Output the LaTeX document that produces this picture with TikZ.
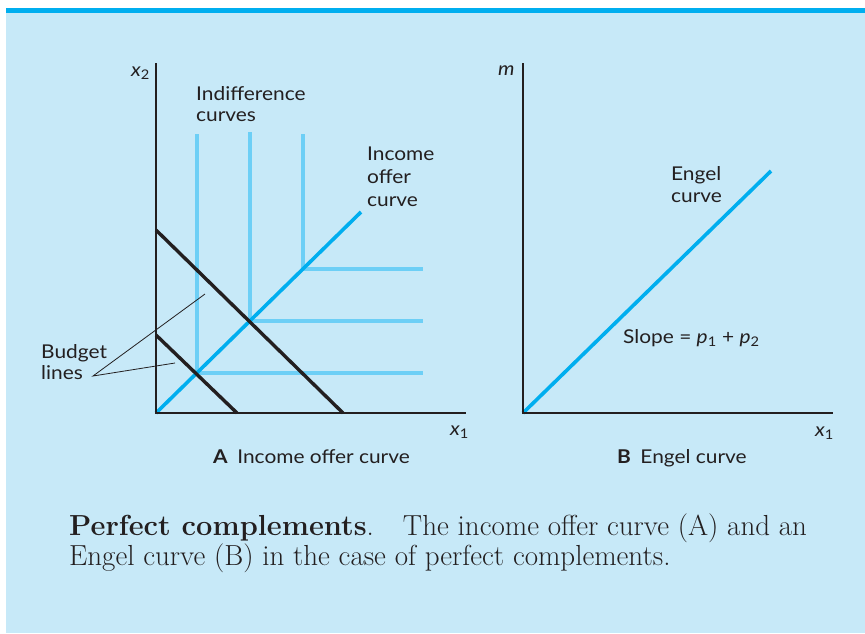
\documentclass[tikz,border=0pt]{standalone}
\usepackage{fontspec}
\newfontfamily\lab[FakeStretch=1.1]{Lato}
\definecolor{bgblue}{HTML}{C7E9F8}
\definecolor{topcyan}{HTML}{00AEEF}
\definecolor{indiff}{HTML}{6DCFF6}
\definecolor{ink}{HTML}{231F20}
\tikzset{
  axis/.style={draw=ink, line width=2.6pt, line cap=rect},
  budget/.style={draw=ink, line width=3.4pt},
  icurve/.style={draw=indiff, line width=3.8pt},
  offer/.style={draw=topcyan, line width=3.6pt},
  leader/.style={draw=ink, line width=0.8pt},
  lbl/.style={inner sep=0pt, anchor=base west, text=ink, font=\lab\fontsize{19}{22}\selectfont},
  captxt/.style={inner sep=0pt, anchor=base west, text=ink, font=\fontsize{29}{30}\selectfont}
}
\begin{document}
\begin{tikzpicture}[x=1pt,y=-1pt]
\useasboundingbox (0,0) rectangle (865,633);
\fill[white] (0,0) rectangle (865,633);
\fill[bgblue] (6,12) rectangle (865,633);
\fill[topcyan] (6,8) rectangle (865,12.5);

% ---------- Panel A ----------
\coordinate (O1) at (156,413);
\coordinate (Y1) at (156,64);
\coordinate (X1) at (465,413);
\coordinate (c1) at (197,373);
\coordinate (c2) at (250,321);
\coordinate (c3) at (303,269);
\coordinate (t1) at (197,134);
\coordinate (t2) at (250,132);
\coordinate (t3) at (303,134);
\coordinate (h1) at (423,373);
\coordinate (h2) at (423,321);
\coordinate (h3) at (423,269);
\coordinate (ioc) at (361,212);
\coordinate (b1a) at (156,230);
\coordinate (b1b) at (343,413);
\coordinate (b2a) at (156,335);
\coordinate (b2b) at (237,413);

\draw[icurve] (t1) -- (c1) -- (h1);
\draw[icurve] (t2) -- (c2) -- (h2);
\draw[icurve] (t3) -- (c3) -- (h3);
\draw[offer] (O1) -- (ioc);
\draw[budget] (b1a) -- (b1b);
\draw[budget] (b2a) -- (b2b);
\draw[axis] (Y1) -- (O1) -- (X1);

\node[lbl] (lx2) at (131,76) {{\itshape x}\textsubscript{2}};
\node[lbl] (lx1a) at (450,435) {{\itshape x}\textsubscript{1}};
\node[lbl] (ind1) at (196,100) {Indifference};
\node[lbl] (ind2) at (196,121) {curves};
\node[lbl] (inc1) at (367,160) {Income};
\node[lbl] (inc2) at (367,183) {offer};
\node[lbl] (inc3) at (367,206) {curve};
\node[lbl] (bud1) at (41,358) {Budget};
\node[lbl] (bud2) at (41,379) {lines};
\coordinate (lead0) at (93,376);
\coordinate (lead1) at (205,294);
\coordinate (lead2) at (175,363);
\draw[leader] (lead1) -- (lead0) -- (lead2);
\node[lbl] (capA) at (213,463) {\textbf{A}\enspace Income offer curve};

% ---------- Panel B ----------
\coordinate (O2) at (523,413);
\coordinate (Y2) at (523,64);
\coordinate (X2) at (832,413);
\coordinate (eng) at (771,171);
\draw[offer] (O2) -- (eng);
\draw[axis] (Y2) -- (O2) -- (X2);
\node[lbl] (lm) at (498,75) {\itshape m};
\node[lbl] (lx1b) at (815,436) {{\itshape x}\textsubscript{1}};
\node[lbl] (eng1) at (671,180) {Engel};
\node[lbl] (eng2) at (671,202) {curve};
\node[lbl] (slope) at (623,343) {Slope = {\itshape p}\textsubscript{1} + {\itshape p}\textsubscript{2}};
\node[lbl] (capB) at (617,463) {\textbf{B}\enspace Engel curve};

% ---------- Caption ----------
\node[captxt] (cap1) at (69,535) {\textbf{Perfect complements}.\quad The income offer curve (A) and an};
\node[captxt] (cap2) at (69,565) {Engel curve (B) in the case of perfect complements.};
\end{tikzpicture}
\end{document}
